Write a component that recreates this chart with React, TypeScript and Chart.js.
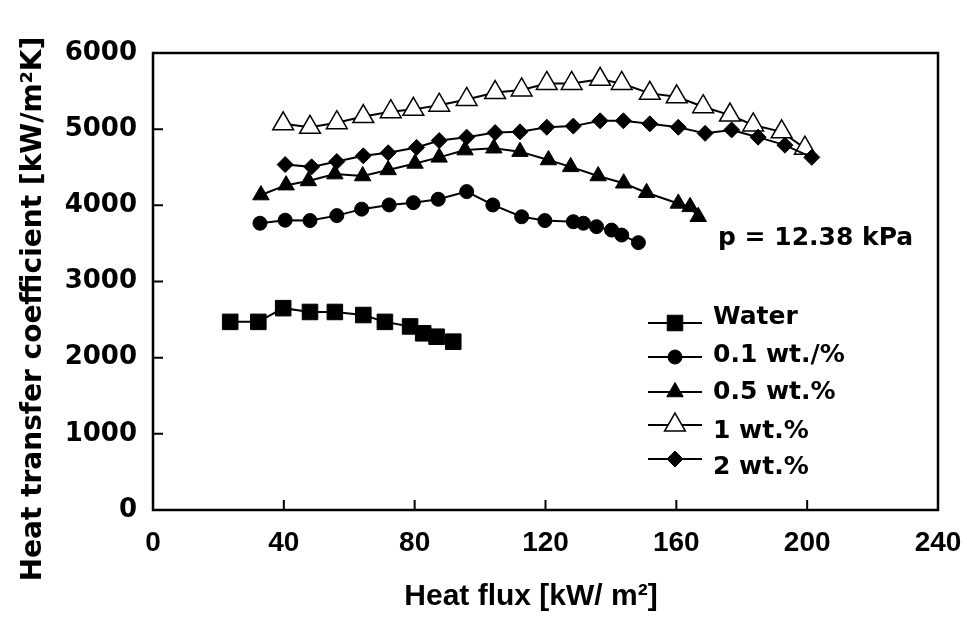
import React, { useEffect, useRef } from 'react';
import { Chart, registerables } from 'chart.js';

Chart.register(...registerables);

// ---------- data ----------
const xTicks = [0, 40, 80, 120, 160, 200, 240];
const yTicks = [0, 1000, 2000, 3000, 4000, 5000, 6000];

const seriesLabels = ['Water', '0.1 wt./%', '0.5 wt.%', '1 wt.%', '2 wt.%'];

const waterX = [23.6, 32.2, 39.8, 48.0, 55.6, 64.3, 70.9, 78.6, 82.6, 86.7, 91.8];
const waterY = [2470, 2470, 2650, 2600, 2600, 2560, 2470, 2410, 2320, 2275, 2210];

const wt01X = [32.7, 40.4, 48.0, 56.2, 63.8, 72.2, 79.6, 87.2, 95.9, 103.9, 112.7, 119.8, 128.5, 131.6, 135.6, 140.2, 143.3, 148.4];
const wt01Y = [3765, 3805, 3800, 3865, 3950, 4005, 4035, 4080, 4180, 4005, 3850, 3800, 3785, 3765, 3720, 3675, 3610, 3510];

const wt05X = [33.0, 40.7, 47.5, 55.6, 64.1, 71.9, 80.1, 87.5, 95.4, 104.2, 112.2, 120.9, 127.7, 136.1, 143.9, 150.9, 160.6, 164.2, 166.7];
const wt05Y = [4135, 4265, 4320, 4410, 4385, 4465, 4550, 4630, 4725, 4750, 4705, 4595, 4505, 4385, 4290, 4165, 4025, 3980, 3850];

const wt1X = [39.8, 48.0, 56.2, 64.3, 72.7, 79.6, 87.5, 95.9, 104.6, 112.7, 120.4, 128.0, 136.7, 143.3, 151.9, 160.1, 168.2, 176.4, 183.5, 192.2, 199.3];
const wt1Y = [5070, 5025, 5085, 5165, 5230, 5260, 5315, 5390, 5480, 5515, 5600, 5600, 5655, 5600, 5470, 5425, 5295, 5185, 5055, 4965, 4750];

const wt2X = [40.4, 48.5, 56.2, 64.3, 71.9, 80.6, 87.5, 95.9, 104.6, 112.2, 120.4, 128.5, 136.7, 143.8, 151.9, 160.6, 168.8, 176.9, 185.0, 193.2, 201.4];
const wt2Y = [4535, 4505, 4575, 4650, 4690, 4760, 4850, 4895, 4955, 4965, 5025, 5040, 5110, 5110, 5070, 5025, 4945, 4990, 4895, 4790, 4630];

const annotationText = 'p = 12.38 kPa';
const xTitle = 'Heat flux [kW/ m\u00B2]';
const yTitle = 'Heat transfer coefficient [kW/m\u00B2K]';

// ---------- styles ----------
const pts = (xs: number[], ys: number[]) => xs.map((x, i) => ({ x, y: ys[i] }));

type Mk = { style: string; r: number; fill: string; lw: number };
const markers: Mk[] = [
  { style: 'rect', r: 11, fill: '#000', lw: 1 },
  { style: 'circle', r: 7, fill: '#000', lw: 1 },
  { style: 'triangle', r: 9.5, fill: '#000', lw: 1 },
  { style: 'triangle', r: 12, fill: '#fff', lw: 1.5 },
  { style: 'rectRot', r: 8, fill: '#000', lw: 1 },
];

function drawMarker(ctx: CanvasRenderingContext2D, m: Mk, x: number, y: number) {
  const r = m.r;
  ctx.beginPath();
  if (m.style === 'rect') {
    const s = Math.SQRT1_2 * r;
    ctx.rect(x - s, y - s, 2 * s, 2 * s);
  } else if (m.style === 'circle') {
    ctx.arc(x, y, r, 0, Math.PI * 2);
  } else if (m.style === 'triangle') {
    ctx.moveTo(x, y - r);
    ctx.lineTo(x + 0.866 * r, y + 0.5 * r);
    ctx.lineTo(x - 0.866 * r, y + 0.5 * r);
    ctx.closePath();
  } else {
    ctx.moveTo(x, y - r);
    ctx.lineTo(x + r, y);
    ctx.lineTo(x, y + r);
    ctx.lineTo(x - r, y);
    ctx.closePath();
  }
  ctx.fillStyle = m.fill;
  ctx.fill();
  ctx.lineWidth = m.lw;
  ctx.strokeStyle = '#000';
  ctx.stroke();
}

const BOLD_DV = '"DejaVu Sans", Arial, sans-serif';
const BOLD_LS = '"Liberation Sans", Arial, sans-serif';

const decorPlugin = {
  id: 'decor',
  beforeDatasetsDraw(chart: any) {
    const { ctx, chartArea: a, scales } = chart;
    ctx.save();
    ctx.strokeStyle = '#000';
    ctx.lineWidth = 2.5;
    ctx.strokeRect(a.left, a.top, a.right - a.left, a.bottom - a.top);
    ctx.lineWidth = 2;
    const tl = 10;
    ctx.beginPath();
    for (const t of scales.x.ticks) {
      const px = scales.x.getPixelForValue(t.value);
      if (px > a.left + 2 && px < a.right - 2) {
        ctx.moveTo(px, a.bottom);
        ctx.lineTo(px, a.bottom - tl);
      }
    }
    for (const t of scales.y.ticks) {
      const py = scales.y.getPixelForValue(t.value);
      if (py > a.top + 2 && py < a.bottom - 2) {
        ctx.moveTo(a.left, py);
        ctx.lineTo(a.left + tl, py);
      }
    }
    ctx.stroke();
    ctx.restore();
  },
  afterDraw(chart: any) {
    const { ctx } = chart;
    ctx.save();
    // legend
    const lineY = [323, 357, 392, 425, 459];
    const textY = [317, 355, 392, 431, 467];
    seriesLabels.forEach((lab, i) => {
      ctx.strokeStyle = '#000';
      ctx.lineWidth = 2;
      ctx.beginPath();
      ctx.moveTo(648, lineY[i]);
      ctx.lineTo(702, lineY[i]);
      ctx.stroke();
      drawMarker(ctx, markers[i], 675, lineY[i]);
      ctx.fillStyle = '#000';
      ctx.font = `bold 25px ${BOLD_DV}`;
      ctx.textAlign = 'left';
      ctx.textBaseline = 'middle';
      ctx.fillText(lab, 713, textY[i]);
    });
    // annotation
    ctx.font = `bold 25px ${BOLD_DV}`;
    ctx.fillText(annotationText, 718, 238);
    // x title
    ctx.font = `bold 30px ${BOLD_LS}`;
    ctx.textAlign = 'center';
    ctx.fillText(xTitle, 531, 597);
    // y title
    ctx.translate(34, 309);
    ctx.rotate(-Math.PI / 2);
    ctx.font = `bold 28px ${BOLD_DV}`;
    ctx.fillText(yTitle, 0, 0);
    ctx.restore();
  },
};

export default function App() {
  const ref = useRef<HTMLCanvasElement | null>(null);
  useEffect(() => {
    if (!ref.current) return;
    const ds = (label: string, xs: number[], ys: number[], m: Mk, order: number) => ({
      label,
      data: pts(xs, ys),
      showLine: true,
      borderColor: '#000',
      borderWidth: 2,
      backgroundColor: m.fill,
      pointStyle: m.style,
      pointRadius: m.r,
      pointBackgroundColor: m.fill,
      pointBorderColor: '#000',
      pointBorderWidth: m.lw,
      tension: 0,
      order,
    });
    const chart = new Chart(ref.current, {
      type: 'scatter',
      data: {
        datasets: [
          ds(seriesLabels[0], waterX, waterY, markers[0], 5),
          ds(seriesLabels[1], wt01X, wt01Y, markers[1], 4),
          ds(seriesLabels[2], wt05X, wt05Y, markers[2], 3),
          ds(seriesLabels[3], wt1X, wt1Y, markers[3], 2),
          ds(seriesLabels[4], wt2X, wt2Y, markers[4], 1),
        ] as any,
      },
      options: {
        animation: false,
        responsive: false,
        layout: { padding: { left: 0, right: 29, top: 53, bottom: 0 } },
        plugins: { legend: { display: false }, tooltip: { enabled: false } },
        scales: {
          x: {
            type: 'linear',
            min: 0,
            max: 240,
            grid: { display: false },
            border: { display: false },
            afterBuildTicks: (s: any) => {
              s.ticks = xTicks.map((v) => ({ value: v }));
            },
            afterFit: (s: any) => {
              s.height = 111;
              s.paddingRight = 0;
              s.paddingLeft = 0;
            },
            ticks: {
              color: '#000',
              padding: 8,
              maxRotation: 0,
              autoSkip: false,
              callback: (v: any) => String(v),
              font: { family: BOLD_LS, size: 28, weight: 'bold' },
            },
          },
          y: {
            type: 'linear',
            min: 0,
            max: 6000,
            grid: { display: false },
            border: { display: false },
            afterBuildTicks: (s: any) => {
              s.ticks = yTicks.map((v) => ({ value: v }));
            },
            afterFit: (s: any) => {
              s.width = 153;
              s.paddingTop = 0;
              s.paddingBottom = 0;
            },
            ticks: {
              color: '#000',
              padding: 8,
              autoSkip: false,
              callback: (v: any) => String(v),
              font: { family: BOLD_DV, size: 26, weight: 'bold' },
            },
          },
        },
      } as any,
      plugins: [decorPlugin],
    });
    return () => chart.destroy();
  }, []);
  return (
    <div style={{ position: 'absolute', left: 0, top: 0, width: 967, height: 621, background: '#fff' }}>
      <canvas ref={ref} width={967} height={621} style={{ width: 967, height: 621, display: 'block' }} />
    </div>
  );
}
